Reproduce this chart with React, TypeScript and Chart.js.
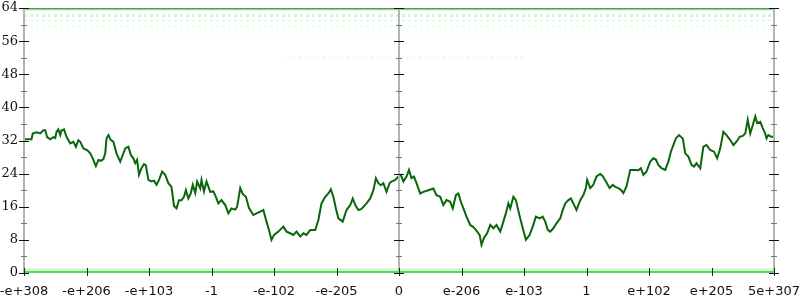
import React, { useEffect, useRef } from "react";
import { Chart, registerables } from "chart.js";

Chart.register(...registerables);

const xTickLabels = ["-e+308", "-e+206", "-e+103", "-1", "-e-102", "-e-205", "0", "e-206", "e-103", "1", "e+102", "e+205", "5e+307"];
const yTicks = [0, 8, 16, 24, 32, 40, 48, 56, 64];

// x in tick-interval units (0..12), y = value
const lineX = [0, 0.12, 0.14, 0.2, 0.26, 0.31, 0.34, 0.37, 0.42, 0.47, 0.5, 0.52, 0.55, 0.58, 0.6, 0.64, 0.68, 0.74, 0.79, 0.83, 0.87, 0.9, 0.95, 1.01, 1.06, 1.1, 1.15, 1.19, 1.23, 1.27, 1.3, 1.32, 1.35, 1.39, 1.43, 1.48, 1.54, 1.58, 1.62, 1.67, 1.71, 1.75, 1.78, 1.81, 1.84, 1.88, 1.92, 1.95, 1.99, 2.04, 2.08, 2.12, 2.16, 2.21, 2.26, 2.31, 2.36, 2.4, 2.44, 2.48, 2.52, 2.56, 2.59, 2.63, 2.67, 2.7, 2.74, 2.77, 2.82, 2.84, 2.88, 2.92, 2.98, 3.03, 3.07, 3.11, 3.16, 3.22, 3.27, 3.32, 3.38, 3.41, 3.46, 3.5, 3.55, 3.6, 3.67, 3.72, 3.78, 3.83, 3.88, 3.92, 3.96, 4, 4.07, 4.15, 4.2, 4.26, 4.31, 4.36, 4.42, 4.47, 4.52, 4.58, 4.66, 4.71, 4.76, 4.82, 4.87, 4.91, 4.95, 4.99, 5.03, 5.1, 5.16, 5.22, 5.26, 5.3, 5.35, 5.4, 5.48, 5.54, 5.59, 5.63, 5.67, 5.71, 5.75, 5.8, 5.85, 5.88, 5.94, 5.99, 6.03, 6.07, 6.12, 6.16, 6.2, 6.24, 6.28, 6.34, 6.39, 6.47, 6.55, 6.6, 6.66, 6.71, 6.76, 6.82, 6.86, 6.91, 6.95, 6.99, 7.03, 7.08, 7.14, 7.18, 7.23, 7.29, 7.32, 7.36, 7.41, 7.46, 7.51, 7.56, 7.62, 7.67, 7.71, 7.75, 7.78, 7.83, 7.87, 7.92, 7.98, 8.03, 8.09, 8.14, 8.19, 8.25, 8.3, 8.34, 8.38, 8.42, 8.47, 8.52, 8.58, 8.62, 8.66, 8.71, 8.75, 8.79, 8.84, 8.9, 8.95, 8.99, 9.01, 9.06, 9.11, 9.16, 9.22, 9.26, 9.31, 9.37, 9.42, 9.46, 9.51, 9.55, 9.59, 9.64, 9.7, 9.78, 9.83, 9.87, 9.91, 9.96, 10.02, 10.07, 10.11, 10.15, 10.2, 10.26, 10.31, 10.35, 10.39, 10.43, 10.48, 10.54, 10.58, 10.63, 10.68, 10.72, 10.76, 10.82, 10.87, 10.92, 10.98, 11.04, 11.09, 11.14, 11.19, 11.24, 11.3, 11.35, 11.4, 11.45, 11.5, 11.54, 11.58, 11.62, 11.66, 11.7, 11.73, 11.78, 11.82, 11.86, 11.88, 11.91, 11.96, 12];
const lineY = [32.3, 32.3, 33.7, 34, 33.7, 34.5, 34.5, 32.8, 32.3, 32.8, 32.6, 34.1, 34.7, 33.3, 34.4, 34.7, 32.9, 31.3, 31.7, 30.5, 32.1, 31.7, 30.1, 29.7, 28.9, 27.7, 25.8, 27.3, 27.1, 27.5, 28.9, 32.5, 33.3, 32.1, 31.7, 28.9, 26.9, 28.5, 30.1, 30.5, 28.5, 27.7, 26.5, 27.3, 23.7, 25.3, 26.3, 26, 22.5, 22.1, 22.3, 21.3, 22.5, 24.5, 23.7, 21.7, 20.8, 16.2, 15.6, 17.6, 17.6, 18.4, 20, 18, 19.3, 21.3, 19.3, 22.1, 20.4, 22.5, 19.7, 22.1, 19.6, 19.7, 18.4, 16.8, 17.6, 16.4, 14.4, 15.6, 15.3, 16, 20.5, 19.1, 18.4, 15.7, 14, 14.4, 14.8, 15.2, 12.4, 10.4, 8, 9.2, 10, 11.2, 10, 9.6, 9.2, 10, 8.8, 9.6, 9.2, 10.4, 10.4, 12.8, 16.8, 18.4, 19.2, 20.2, 18.4, 15.6, 13.2, 12.4, 15.2, 16.4, 18, 16.4, 15.2, 15.5, 16.8, 18, 20, 22.9, 21.7, 21.2, 21.7, 19.6, 21.7, 22.1, 22.5, 23.3, 23.7, 22.1, 23.3, 24.9, 22.9, 23.3, 21.7, 19.2, 19.6, 20, 20.4, 18.8, 18.4, 16.4, 17.6, 17.2, 15.6, 18.8, 19.2, 17.2, 15.6, 13.6, 11.6, 11.2, 10.4, 9.2, 6.8, 8.5, 9.6, 11.6, 10.8, 11.6, 10, 12.4, 14.4, 16.8, 15.6, 18.4, 17.6, 14.4, 10.8, 8, 9.2, 11.2, 13.6, 13.2, 13.6, 12.4, 10.4, 10, 10.8, 12, 13.2, 15.2, 16.8, 17.6, 18, 16.8, 15.2, 17.6, 18.8, 20.5, 22.5, 20.5, 21.3, 23.3, 23.9, 23.4, 22.1, 20.5, 21.3, 20.8, 20.5, 20.1, 19.3, 20.9, 24.9, 24.9, 24.8, 25.3, 23.7, 24.5, 26.9, 27.7, 27.4, 26.1, 25.3, 24.9, 26.9, 29.3, 30.9, 32.5, 33.3, 32.5, 28.9, 28.1, 26.1, 25.7, 26.5, 25.3, 30.5, 30.9, 29.7, 29.3, 27.7, 30.1, 34.1, 33.3, 32.1, 30.9, 31.7, 32.9, 33.1, 33.7, 37, 33.7, 35.7, 37.8, 36.2, 36.5, 35, 33.7, 32.5, 33.3, 32.9, 32.9];

// faint background density bands
const bandLevels = [63.7, 62.2, 61.0, 59.6, 58.2, 52.0, 0.9, 0.2];
const bandStart = [0, 0, 0, 0, 0, 4.2, 0, 0];
const bandEnd = [12, 12, 12, 12, 12, 8.0, 12, 12];
const bandAlpha = [0.6, 0.2, 0.1, 0.06, 0.03, 0.1, 0.2, 0.8];
const bandWidth = [2, 3, 3, 3, 3, 2, 2, 3];

const axesPlugin = {
  id: "customAxes",
  afterDatasetsDraw(chart: any) {
    const { ctx, chartArea, scales } = chart;
    const xs = scales.x;
    const ys = scales.y;
    ctx.save();
    // top border
    ctx.strokeStyle = "rgba(120,120,120,0.9)";
    ctx.lineWidth = 1;
    ctx.beginPath();
    ctx.moveTo(chartArea.left, chartArea.top + 0.5);
    ctx.lineTo(chartArea.right, chartArea.top + 0.5);
    ctx.stroke();
    // vertical axes
    [0, 6, 12].forEach((v) => {
      const px = Math.round(xs.getPixelForValue(v));
      ctx.strokeStyle = "#b4b4b4";
      ctx.lineWidth = 2;
      ctx.beginPath();
      ctx.moveTo(px, chartArea.top);
      ctx.lineTo(px, chartArea.bottom);
      ctx.stroke();
      for (let t = 0; t <= 64; t += 4) {
        const py = Math.round(ys.getPixelForValue(t)) + 0.5;
        const major = t % 8 === 0;
        ctx.strokeStyle = major ? "#111" : "#777";
        ctx.lineWidth = 1;
        const len = major ? 5 : 3;
        ctx.beginPath();
        ctx.moveTo(px - len, py);
        ctx.lineTo(px + len, py);
        ctx.stroke();
      }
    });
    // x ticks
    for (let i = 0; i < xTickLabels.length; i++) {
      const px = Math.round(xs.getPixelForValue(i)) + 0.5;
      ctx.strokeStyle = "#222";
      ctx.lineWidth = 1;
      ctx.beginPath();
      ctx.moveTo(px, chartArea.bottom - 5);
      ctx.lineTo(px, chartArea.bottom + 3);
      ctx.stroke();
    }
    ctx.restore();
  },
};

export default function App() {
  const ref = useRef<HTMLCanvasElement | null>(null);
  useEffect(() => {
    document.body.style.margin = "0";
    if (!ref.current) return;
    const datasets: any[] = [
      {
        label: "main",
        data: lineX.map((x, i) => ({ x, y: lineY[i] })),
        borderColor: "#0a660a",
        borderWidth: 2,
        pointRadius: 0,
        tension: 0,
      },
    ];
    bandLevels.forEach((lv, i) => {
      datasets.push({
        label: "band" + i,
        data: [
          { x: bandStart[i], y: lv },
          { x: bandEnd[i], y: lv },
        ],
        borderColor: `rgba(40,210,40,${bandAlpha[i]})`,
        borderWidth: bandWidth[i],
        pointRadius: 0,
        borderDash: i >= 1 && i <= 5 ? [3, 3] : [],
      });
    });
    const chart = new Chart(ref.current, {
      type: "line",
      data: { datasets },
      options: {
        animation: false,
        responsive: false,
        maintainAspectRatio: false,
        layout: { padding: { top: 8, right: 26, left: 0, bottom: 0 } },
        plugins: { legend: { display: false }, tooltip: { enabled: false } },
        scales: {
          x: {
            type: "linear",
            min: 0,
            max: 12,
            grid: { display: false, drawTicks: true, tickLength: 8 },
            border: { display: false },
            afterFit: (s: any) => {
              s.height = 27;
              s.paddingLeft = 0;
              s.paddingRight = 0;
            },
            afterBuildTicks: (s: any) => {
              s.ticks = xTickLabels.map((_, i) => ({ value: i }));
            },
            ticks: {
              autoSkip: false,
              maxRotation: 0,
              padding: 3,
              color: "#111",
              font: { family: "DejaVu Sans", size: 13 },
              callback: (v: any) => xTickLabels[v as number] ?? "",
            },
          },
          y: {
            min: 0,
            max: 64,
            grid: { display: false, drawTicks: false },
            border: { display: false },
            afterFit: (s: any) => {
              s.width = 24;
              s.paddingTop = 0;
              s.paddingBottom = 0;
            },
            afterBuildTicks: (s: any) => {
              s.ticks = yTicks.map((v) => ({ value: v }));
            },
            ticks: {
              padding: 6,
              color: "#111",
              font: { family: "DejaVu Serif", size: 13 },
            },
          },
        },
      },
      plugins: [axesPlugin],
    });
    return () => chart.destroy();
  }, []);
  return (
    <div style={{ width: 800, height: 300 }}>
      <canvas ref={ref} width={800} height={300} style={{ display: "block" }} />
    </div>
  );
}
